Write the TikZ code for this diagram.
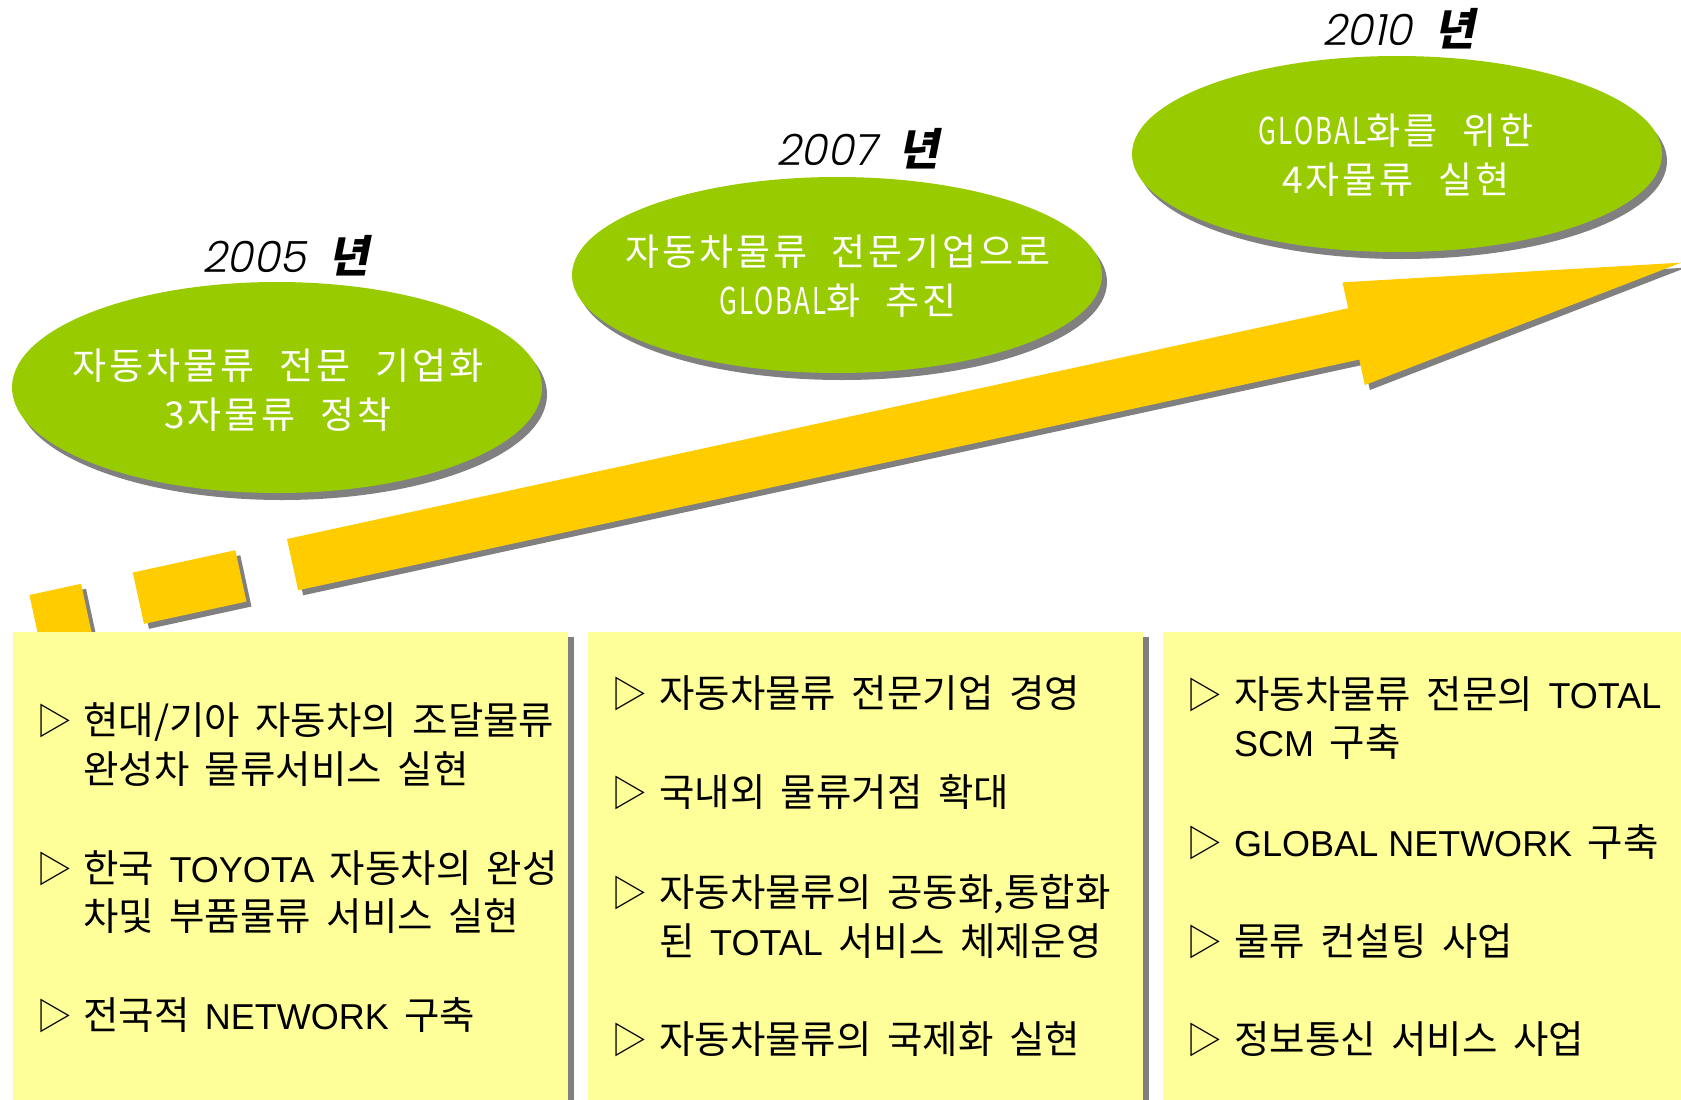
\documentclass[tikz,border=0pt]{standalone}
\usepackage{fontspec}
\usepackage{graphicx}
\usetikzlibrary{shapes.geometric,shadows}
\newfontfamily\krbox[WordSpace=1.8]{Noto Sans CJK KR}
\newfontfamily\latbox{Liberation Sans}
\newfontfamily\krell[LetterSpace=8,WordSpace=2.2]{Noto Sans CJK KR}
\IfFontExistsTF{Poppins Light}
  {\newfontfamily\yearfont[FakeSlant=0.2]{Poppins Light}}
  {\newfontfamily\yearfont[FakeSlant=0.2]{Poppins}}
\newfontfamily\nyeonfont[FakeSlant=0.2]{Noto Sans CJK KR}
\newcommand\latw[1]{{\latbox\fontsize{36}{40}\selectfont #1}}
\newcommand\narrowlat[1]{\scalebox{0.7}[1]{#1}}
\definecolor{ellgreen}{HTML}{99CC00}
\definecolor{arrowyellow}{HTML}{FFCC00}
\definecolor{boxyellow}{HTML}{FFFF99}
\definecolor{shadowgray}{HTML}{808080}
\begin{document}
\begin{tikzpicture}[x=1pt,y=1pt,
  ell/.style={ellipse, fill=ellgreen, inner sep=0pt, outer sep=0pt, minimum width=530pt,
    drop shadow={shadow xshift=5pt, shadow yshift=-7pt, fill=shadowgray, opacity=1}},
  boxpanel/.style={rectangle, fill=boxyellow, inner sep=0pt, outer sep=0pt, anchor=north west,
    minimum width=555pt, minimum height=480pt,
    drop shadow={shadow xshift=6pt, shadow yshift=-5pt, fill=shadowgray, opacity=1}},
  btxt/.style={anchor=base west, inner sep=0pt, text=black, font=\krbox\fontsize{38.5}{42}\selectfont},
  bul/.style={anchor=base west, inner sep=0pt, text=black, font=\krbox\fontsize{36}{40}\selectfont},
  etxt/.style={align=center, inner sep=0pt, text=white, font=\krell\fontsize{37}{49}\selectfont},
  year/.style={anchor=base west, inner sep=0pt, text=black}]
\useasboundingbox (0,0) rectangle (1681,-1100);
\clip (0,0) rectangle (1681,-1100);
\fill[white] (0,0) rectangle (1681,-1100);

% arrow shadow
\begin{scope}[shift={(292,-544)}, rotate=12.27]
  \fill[shadowgray] (-263.6,0) rectangle (-210.8,-52.5)
    (-157.8,0) rectangle (-52.9,-52.5)
    (0,0) -- (1086,0) -- (1086,26.5) -- (1421,-26.2) -- (1086,-78.6) -- (1086,-52.5) -- (0,-52.5) -- cycle;
\end{scope}
% arrow
\begin{scope}[shift={(287,-539)}, rotate=12.27]
  \fill[arrowyellow] (-263.6,0) rectangle (-210.8,-52.5)
    (-157.8,0) rectangle (-52.9,-52.5)
    (0,0) -- (1086,0) -- (1086,26.5) -- (1421,-26.2) -- (1086,-78.6) -- (1086,-52.5) -- (0,-52.5) -- cycle;
\end{scope}

% panels
\node[boxpanel] (box1) at (13,-632) {};
\node[boxpanel] (box2) at (588,-632) {};
\node[boxpanel] (box3) at (1163,-632) {};

% ellipses
\node[ell, minimum height=211pt] (e1) at (277,-387.5) {};
\node[ell, minimum height=196pt] (e2) at (837,-275) {};
\node[ell, minimum height=196pt] (e3) at (1397,-154) {};

\node[etxt] (e1t) at (278,-390) {자동차물류 전문 기업화\\3자물류 정착};
\node[etxt] (e2t) at (838,-276) {자동차물류 전문기업으로\\\narrowlat{GLOBAL}화 추진};
\node[etxt] (e3t) at (1396,-155) {\narrowlat{GLOBAL}화를 위한\\4자물류 실현};

% years
\node[year] (y1) at (202,-272) {{\yearfont\fontsize{43}{50}\selectfont 2005}\hspace{22pt}{\nyeonfont\bfseries\fontsize{44}{50}\selectfont 년}};
\node[year] (y2) at (776,-165) {{\yearfont\fontsize{43}{50}\selectfont 2007}\hspace{22pt}{\nyeonfont\bfseries\fontsize{44}{50}\selectfont 년}};
\node[year] (y3) at (1322,-45) {{\yearfont\fontsize{43}{50}\selectfont 2010}\hspace{22pt}{\nyeonfont\bfseries\fontsize{44}{50}\selectfont 년}};

% box 1 text
\node[bul] (b1a) at (36,-734) {▷};
\node[btxt] (t1a) at (83,-734) {현대/기아 자동차의 조달물류};
\node[btxt] (t1a2) at (83,-783) {완성차 물류서비스 실현};
\node[bul] (b1b) at (36,-882) {▷};
\node[btxt] (t1b) at (83,-882) {한국 \latw{TOYOTA} 자동차의 완성};
\node[btxt] (t1b2) at (83,-930.5) {차및 부품물류 서비스 실현};
\node[bul] (b1c) at (36,-1029) {▷};
\node[btxt] (t1c) at (83,-1029) {전국적 \latw{NETWORK} 구축};

% box 2 text
\node[bul] (b2a) at (611,-707.5) {▷};
\node[btxt] (t2a) at (659,-707.5) {자동차물류 전문기업 경영};
\node[bul] (b2b) at (611,-806.5) {▷};
\node[btxt] (t2b) at (659,-806.5) {국내외 물류거점 확대};
\node[bul] (b2c) at (611,-906.5) {▷};
\node[btxt] (t2c) at (659,-906.5) {자동차물류의 공동화,통합화};
\node[btxt] (t2c2) at (659,-955) {된 \latw{TOTAL} 서비스 체제운영};
\node[bul] (b2d) at (611,-1053) {▷};
\node[btxt] (t2d) at (659,-1053) {자동차물류의 국제화 실현};

% box 3 text
\node[bul] (b3a) at (1186,-708.6) {▷};
\node[btxt] (t3a) at (1234,-708.6) {자동차물류 전문의 \latw{TOTAL}};
\node[btxt] (t3a2) at (1234,-756.5) {\latw{SCM} 구축};
\node[bul] (b3b) at (1186,-856) {▷};
\node[btxt] (t3b) at (1234,-856) {\latw{GLOBAL NETWORK} 구축};
\node[bul] (b3c) at (1186,-955) {▷};
\node[btxt] (t3c) at (1234,-955) {물류 컨설팅 사업};
\node[bul] (b3d) at (1186,-1053) {▷};
\node[btxt] (t3d) at (1234,-1053) {정보통신 서비스 사업};
\end{tikzpicture}
\end{document}
